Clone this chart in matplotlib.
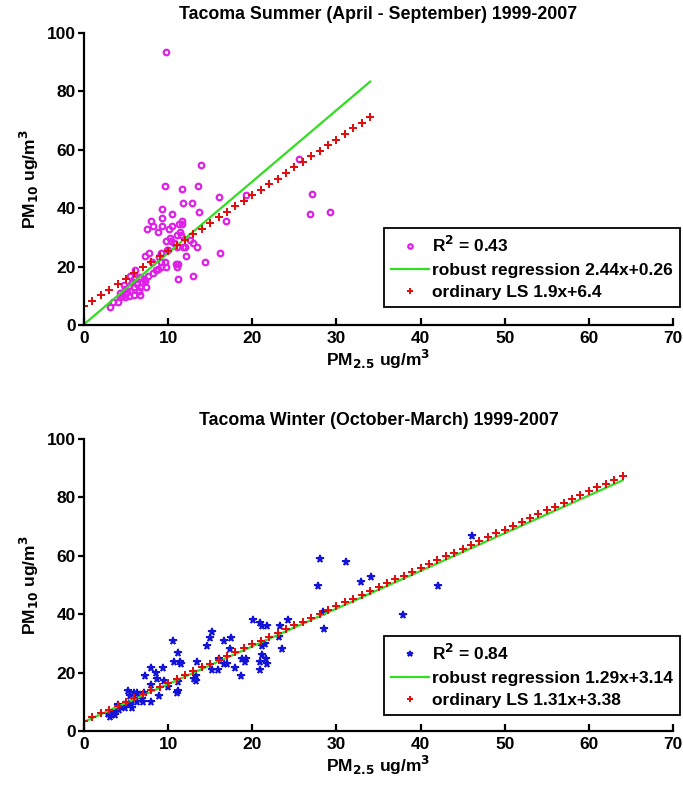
import numpy as np
import matplotlib.pyplot as plt

plt.rcParams['font.family'] = ['Liberation Sans', 'DejaVu Sans']
plt.rcParams['font.weight'] = 'bold'
plt.rcParams['mathtext.default'] = 'bf'

# Summer (April - September) daily pairs
summer_pm25 = [9.8, 13.9, 9.6, 11.7, 13.6, 16.1, 19.3, 25.5, 27.1, 26.8, 29.2,
               9.3, 9.3, 10.5, 11.8, 12.8, 13.7, 8.0, 7.5, 8.2, 8.8, 9.3, 10.1,
               10.5, 11.3, 11.6, 11.7, 11.4, 11.5, 11.1, 16.9, 9.7, 10.2, 10.3,
               10.7, 9.9, 9.2, 10.0, 11.0, 11.8, 12.0, 12.6, 12.9, 13.4, 12.1,
               14.4, 16.2, 7.3, 7.7, 8.9, 8.1, 9.1, 9.6, 9.7, 9.2, 11.0, 11.2,
               10.9, 11.2, 12.9, 7.6, 8.2, 8.6, 8.8, 7.4, 7.3, 6.9, 6.6, 6.5,
               6.6, 6.1, 6.1, 5.9, 5.5, 5.7, 5.3, 4.7, 4.9, 4.3, 4.5, 4.9, 5.3,
               5.9, 4.0, 3.5, 3.1, 5.1, 6.3, 5.5, 5.9, 4.3, 7.1, 6.7]
summer_pm10 = [93.5, 54.8, 47.6, 46.6, 47.6, 43.7, 44.6, 56.8, 44.7, 37.8, 38.7,
               39.7, 36.7, 37.8, 41.6, 41.6, 38.7, 35.7, 32.8, 33.7, 31.9, 33.7,
               32.8, 33.7, 34.7, 35.7, 34.7, 31.9, 30.7, 30.9, 35.7, 28.9, 29.6,
               28.9, 28.1, 25.6, 24.5, 25.6, 26.7, 26.7, 26.7, 29.0, 28.1, 26.7,
               23.5, 21.6, 24.6, 23.7, 24.5, 23.2, 21.7, 21.6, 21.7, 19.9, 19.8,
               19.9, 20.7, 20.7, 15.8, 16.7, 16.7, 17.9, 18.8, 19.0, 13.1, 15.0,
               14.8, 13.1, 11.7, 10.1, 18.8, 16.5, 15.8, 16.7, 14.8, 13.3, 13.7,
               12.2, 11.0, 9.9, 9.7, 9.9, 10.1, 8.0, 8.0, 6.0, 11.4, 14.0, 11.7,
               13.1, 9.7, 15.9, 16.5]

# Winter (October - March) daily pairs
winter_pm25 = [46.1, 28.1, 31.1, 27.8, 32.9, 34.1, 42.1, 37.9, 28.4, 28.5,
               20.1, 20.9, 21.1, 21.7, 23.3, 24.3, 23.5, 23.2, 21.5, 21.2, 21.1,
               21.6, 20.9, 21.7, 20.9, 15.2, 14.6, 15.0, 16.6, 17.5, 17.4, 16.0,
               16.6, 17.0, 18.0, 18.6, 18.8, 19.1, 19.2, 15.9, 15.2, 13.4, 13.3,
               13.1, 13.3, 10.6, 11.2, 10.7, 11.4, 11.5, 11.2, 11.2, 11.0, 9.4,
               8.0, 8.6, 7.3, 8.7, 8.0, 9.5, 10.0, 8.9, 8.0, 7.1, 6.5, 5.9, 6.3,
               5.2, 5.5, 6.1, 6.9, 7.0, 5.7, 4.9, 5.7, 4.7, 4.0, 3.5, 3.3, 3.1,
               2.9, 3.7, 4.1, 5.3, 6.3, 6.7]
winter_pm10 = [66.7, 58.8, 57.8, 49.6, 50.9, 52.8, 49.6, 39.8, 40.7, 34.8,
               37.9, 37.0, 35.9, 35.9, 35.9, 37.9, 28.0, 32.2, 29.9, 29.1, 25.9,
               24.6, 23.7, 22.9, 20.7, 33.9, 29.1, 31.9, 30.8, 31.9, 28.0, 24.6,
               22.8, 22.8, 21.6, 18.8, 24.6, 23.7, 24.6, 20.7, 20.7, 23.7, 18.8,
               17.9, 17.0, 30.9, 26.8, 23.7, 23.7, 22.9, 16.7, 13.8, 12.9, 21.7,
               21.7, 19.8, 18.8, 17.7, 15.8, 17.0, 14.9, 11.9, 9.9, 12.9, 11.9,
               12.9, 12.9, 13.8, 11.9, 10.9, 10.9, 10.0, 10.0, 8.0, 8.0, 8.9, 8.9,
               6.4, 5.5, 4.9, 5.8, 5.5, 7.2, 9.4, 10.0, 12.4]

# fit coefficients (slope, intercept) and x range of each fit line
summer_robust = (2.44, 0.26)
summer_ols = (1.9, 6.4)
summer_xmax = 34
winter_robust = (1.29, 3.14)
winter_ols = (1.31, 3.38)
winter_xmax = 64

panels = [
    dict(title='Tacoma Summer (April - September) 1999-2007',
         x=summer_pm25, y=summer_pm10, r2='0.43',
         robust=summer_robust, ols=summer_ols, xmax=summer_xmax,
         rlabel='robust regression 2.44x+0.26', olabel='ordinary LS 1.9x+6.4',
         pos=[0.123, 0.5896, 0.8624, 0.3693], leg=(680 / 683, 1 - 307 / 792)),
    dict(title='Tacoma Winter (October-March) 1999-2007',
         x=winter_pm25, y=winter_pm10, r2='0.84',
         robust=winter_robust, ols=winter_ols, xmax=winter_xmax,
         rlabel='robust regression 1.29x+3.14', olabel='ordinary LS 1.31x+3.38',
         pos=[0.123, 0.077, 0.8624, 0.3693], leg=(680 / 683, 1 - 715 / 792)),
]

fig = plt.figure(figsize=(6.83, 7.92), dpi=100)

for i, p in enumerate(panels):
    ax = fig.add_axes(p['pos'])
    if i == 0:
        pts, = ax.plot(p['x'], p['y'], 'o', ls='none', mfc='none', mec='#e020e8',
                       ms=4, mew=1.6)
    else:
        pts, = ax.plot(p['x'], p['y'], '*', ls='none', color='#1414d8',
                       ms=5.5, mew=1.2)
    xs = np.array([0, p['xmax']])
    rob, = ax.plot(xs, p['robust'][0] * xs + p['robust'][1], color='#33dd22', lw=1.6)
    xd = np.arange(0, p['xmax'] + 1)
    ols, = ax.plot(xd, p['ols'][0] * xd + p['ols'][1], 'P', ls='none',
                   color='#e01010', ms=5.5, mew=0)

    ax.set_xlim(0, 70)
    ax.set_ylim(0, 100)
    ax.set_xticks(range(0, 71, 10))
    ax.set_yticks(range(0, 101, 20))
    for s in ['top', 'right']:
        ax.spines[s].set_visible(False)
    for s in ['left', 'bottom']:
        ax.spines[s].set_linewidth(1.6)
    ax.tick_params(axis='x', direction='in', length=5, width=1.6, labelsize=12.5, pad=4)
    ax.tick_params(axis='y', direction='out', length=4, width=1.6, labelsize=12.5, pad=2)
    for lab in ax.get_xticklabels() + ax.get_yticklabels():
        lab.set_fontweight('bold')

    ax.set_title(p['title'], fontsize=12.8, fontweight='bold', pad=10)
    ax.set_xlabel('PM$_{2.5}$ ug/m$^{3}$', fontsize=12.5,
                  fontweight='bold', labelpad=2)
    ax.set_ylabel('PM$_{10}$ ug/m$^{3}$', fontsize=12.5,
                  fontweight='bold', labelpad=4)

    leg = fig.legend([pts, rob, ols],
                     ['R$^{2}$ = ' + p['r2'], p['rlabel'], p['olabel']],
                     loc='lower right', bbox_to_anchor=p['leg'],
                     bbox_transform=fig.transFigure,
                     prop={'size': 12.5, 'weight': 'bold'}, fancybox=False,
                     edgecolor='black', framealpha=1, handlelength=2.2,
                     handletextpad=0.2, labelspacing=0.42, borderpad=0.4,
                     borderaxespad=0, markerscale=0.8)
    leg.get_frame().set_linewidth(1.3)

fig.savefig('out.png', dpi=100)
